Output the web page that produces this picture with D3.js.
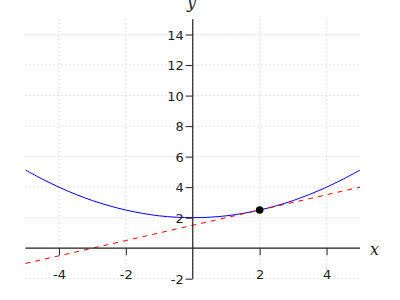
<!DOCTYPE html>
<html><head><meta charset="utf-8">
<script src="https://cdn.jsdelivr.net/npm/d3@7"></script>
<style>body{margin:0;background:#fff}</style>
</head><body>
<svg id="c" width="400" height="300"></svg>
<script>
const xTicks = [-4, -2, 2, 4];
const yTicks = [-2, 2, 4, 6, 8, 10, 12, 14];
const gridX = [-4, -2, 0, 2, 4];
const gridY = [-2, 0, 2, 4, 6, 8, 10, 12, 14];
const curveX = [-5, -4.5, -4, -3.5, -3, -2.5, -2, -1.5, -1, -0.5, 0, 0.5, 1, 1.5, 2, 2.5, 3, 3.5, 4, 4.5, 5];
const curveY = [5.12, 4.53, 4.0, 3.53, 3.12, 2.78, 2.5, 2.28, 2.12, 2.03, 2.0, 2.03, 2.12, 2.28, 2.5, 2.78, 3.12, 3.53, 4.0, 4.53, 5.12];
const tangentX = [-5, 5];
const tangentY = [-1, 4];
const pointX = [2];
const pointY = [2.5];

const svg = d3.select('#c');
const x = d3.scaleLinear().domain([-5, 5]).range([25.5, 360]);
const y = d3.scaleLinear().domain([-2, 15]).range([278.7, 19.3]);

// grid
const g = svg.append('g');
g.selectAll('.gy').data(gridY).enter().append('line')
  .attr('x1', x(-5)).attr('x2', x(5)).attr('y1', d => y(d)).attr('y2', d => y(d))
  .attr('stroke', '#c8c8c8').attr('stroke-dasharray', '1,3').attr('stroke-width', 1);
g.selectAll('.gx').data(gridX).enter().append('line')
  .attr('y1', y(15)).attr('y2', y(-2)).attr('x1', d => x(d)).attr('x2', d => x(d))
  .attr('stroke', '#c8c8c8').attr('stroke-dasharray', '1,3').attr('stroke-width', 1);

// curve
const line = d3.line().x(d => x(d[0])).y(d => y(d[1])).curve(d3.curveCatmullRom);
svg.append('path').datum(curveX.map((v, i) => [v, curveY[i]]))
  .attr('d', line).attr('fill', 'none').attr('stroke', '#0000ff').attr('stroke-width', 1);
// tangent
svg.append('path').datum(tangentX.map((v, i) => [v, tangentY[i]]))
  .attr('d', d3.line().x(d => x(d[0])).y(d => y(d[1])))
  .attr('fill', 'none').attr('stroke', '#ff0000').attr('stroke-width', 1).attr('stroke-dasharray', '5,5');

// axes
const fmt = d => String(d);
const xAxis = d3.axisBottom(x).tickValues(xTicks).tickSize(7).tickPadding(15).tickFormat(fmt);
const xa = svg.append('g').attr('transform', `translate(0,${y(0)})`).call(xAxis);
const yAxis = d3.axisLeft(y).tickValues(yTicks).tickSize(7).tickPadding(2).tickFormat(fmt);
const ya = svg.append('g').attr('transform', `translate(${x(0)},0)`).call(yAxis);
[xa, ya].forEach(a => {
  a.select('.domain').attr('stroke', '#222').attr('stroke-width', 1.2);
  a.selectAll('.tick line').attr('stroke', '#222');
  a.selectAll('.tick text').attr('fill', '#222').style('font-family', 'DejaVu Sans').style('font-size', '13px');
});
xa.select('.domain').attr('d', `M${x(-5)},0H${x(5)}`);
ya.select('.domain').attr('d', `M0,${y(15)}V${y(-2)}`);
ya.selectAll('.tick text').attr('dy', '0.36em');

// point
svg.selectAll('.pt').data(pointX).enter().append('circle')
  .attr('cx', d => x(d)).attr('cy', (d, i) => y(pointY[i])).attr('r', 3.8).attr('fill', '#000');

// axis labels
svg.append('text').attr('x', 370).attr('y', y(0) + 7).text('x')
  .style('font-family', 'DejaVu Serif').style('font-style', 'italic').style('font-size', '16px').attr('fill', '#222');
svg.append('text').attr('x', 187).attr('y', 8).text('y')
  .style('font-family', 'DejaVu Serif').style('font-style', 'italic').style('font-size', '16px').attr('fill', '#222');
</script>
</body></html>
